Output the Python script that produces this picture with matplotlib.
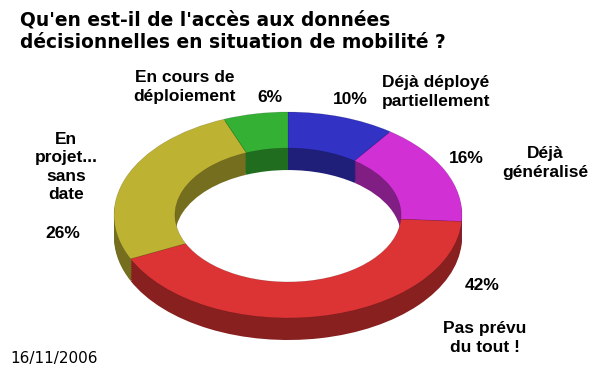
import matplotlib.pyplot as plt
import matplotlib.colors as mcolors

# data, clockwise from 12 o'clock
labels = ['Déjà déployé\npartiellement', 'Déjà\ngénéralisé', 'Pas prévu\ndu tout !',
          'En\nprojet...\nsans\ndate', 'En cours de\ndéploiement']
values = [10, 16, 42, 26, 6]
colors = ['#3232c4', '#d030d4', '#dc3434', '#beb232', '#34b034']

title = "Qu'en est-il de l'accès aux données\ndécisionnelles en situation de mobilité ?"
date_txt = '16/11/2006'

W, H = 600, 372
cx, cy, rx, ry = 288, 215, 174, 103   # ellipse of the top face, in px
depth = 22                              # thickness in px

fig = plt.figure(figsize=(W / 100, H / 100), dpi=100)
ax = fig.add_axes([0, 0, 1, 1])

# side of the ring: darker copies stacked downwards
side = [tuple(c * 0.62 for c in mcolors.to_rgb(col)) for col in colors]
n_layers = 12
for i in range(n_layers, 0, -1):
    off = -depth * i / n_layers / ry
    ax.pie(values, colors=side, startangle=90, counterclock=False, radius=1,
           center=(0, off), wedgeprops=dict(width=0.35, linewidth=0))

# top face
ax.pie(values, colors=colors, startangle=90, counterclock=False, radius=1,
       center=(0, 0), wedgeprops=dict(width=0.35, linewidth=0.4, edgecolor='#00000030'))

ax.set_aspect('auto')
ax.set_xlim((0 - cx) / rx, (W - cx) / rx)
ax.set_ylim((cy - H) / ry, cy / ry)
ax.axis('off')

# labels placed in pixel coords (figure fraction)
def put(x, y, s, **kw):
    fig.text(x / W, 1 - y / H, s, ha='center', va='center', fontsize=12.5,
             fontweight='bold', family='Liberation Sans', linespacing=1.3, **kw)

put(185, 87, labels[4])
put(270, 97, f'{values[4]}%')
put(350, 100, f'{values[0]}%')
put(436, 92, labels[0])
put(466, 158, f'{values[1]}%')
put(545, 163, labels[1])
put(482, 285, f'{values[2]}%')
put(485, 338, labels[2])
put(66, 167, labels[3])
put(63, 233, f'{values[3]}%')

fig.text(20 / W, 1 - 31 / H, title, ha='left', va='center', fontsize=13.4,
         fontweight='bold', family='DejaVu Sans', linespacing=1.25)
fig.text(10 / W, 1 - 358 / H, date_txt, ha='left', va='center', fontsize=11,
         family='DejaVu Sans')

fig.savefig('out.png', dpi=100)
